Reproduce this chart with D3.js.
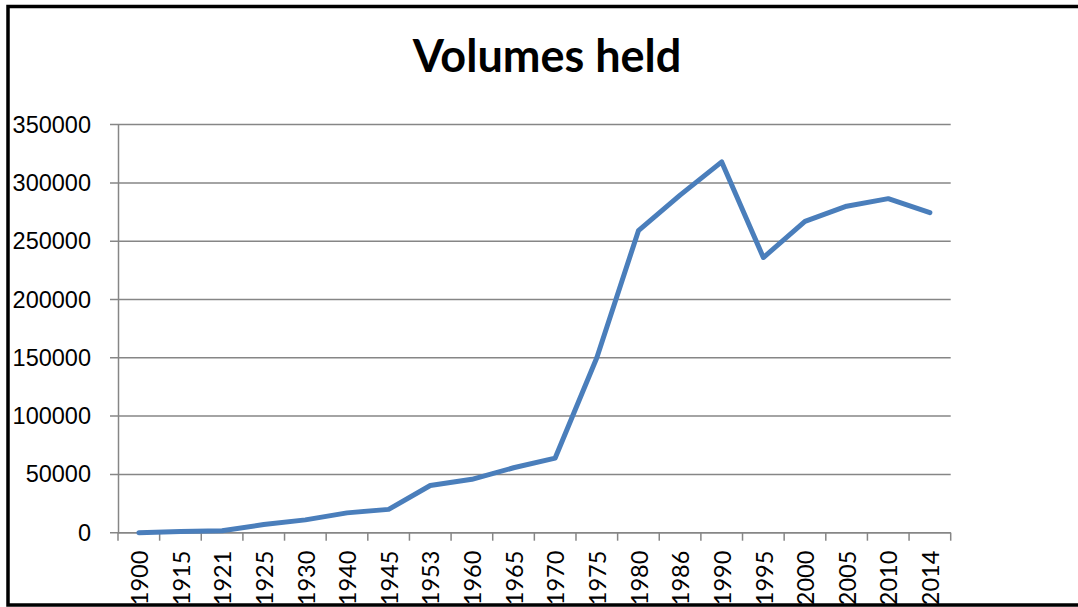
<!DOCTYPE html>
<html>
  <head>
    <meta charset="utf-8">
    <title>Volumes held</title>
    <script src="https://cdn.jsdelivr.net/npm/d3@7/dist/d3.min.js"></script>
    <style media="screen">
      body {
        margin: 0;
        background: #fff;
        overflow: hidden;
      }
      svg {
        display: block;
        font-family: Lato, "Open Sans", sans-serif;
      }
      .grid line {
        stroke: #868686;
        stroke-width: 1.5;
      }
      .tick text {
        fill: #000;
      }
    </style>
  </head>
  <body>
    <script type="text/javascript">

    const years = ["1900", "1915", "1921", "1925", "1930", "1940", "1945", "1953", "1960", "1965",
                   "1970", "1975", "1980", "1986", "1990", "1995", "2000", "2005", "2010", "2014"];
    const volumes = [0, 1000, 1700, 7000, 11000, 17000, 20000, 40500, 45800, 55700,
                     64000, 150000, 259000, 289500, 318000, 236000, 267000, 280000, 286500, 274500];
    const yTicks = [0, 50000, 100000, 150000, 200000, 250000, 300000, 350000];

    const W = 1078, H = 607;
    let margin = {top: 124.6, left: 118, right: W - 950.7, bottom: H - 532.7},
        width = W - margin.left - margin.right,
        height = H - margin.top - margin.bottom;

    const svg = d3.select('body').append('svg')
      .attr('width', W)
      .attr('height', H);

    // outer frame (right edge falls outside the picture)
    svg.append('rect')
      .attr('x', 8)
      .attr('y', 6.5)
      .attr('width', W + 20)
      .attr('height', 598.5)
      .attr('fill', 'none')
      .attr('stroke', '#000')
      .attr('stroke-width', 3.5);

    svg.append('text')
      .attr('x', 547)
      .attr('y', 72)
      .attr('text-anchor', 'middle')
      .style('font-size', '45px')
      .style('font-weight', 'bold')
      .text('Volumes held');

    const g = svg.append('g')
      .attr('transform', 'translate(' + margin.left + ',' + margin.top + ')');

    const x = d3.scaleBand().domain(years).range([0, width]);
    const y = d3.scaleLinear().domain([0, 350000]).range([height, 0]);

    // horizontal gridlines
    g.append('g')
      .attr('class', 'grid')
      .selectAll('line')
      .data(yTicks)
      .enter().append('line')
      .attr('x1', -8)
      .attr('x2', width)
      .attr('y1', d => y(d))
      .attr('y2', d => y(d));

    // y axis
    const yAxis = g.append('g')
      .call(d3.axisLeft(y).tickValues(yTicks).tickSize(0).tickPadding(27).tickFormat(d3.format('d')));
    yAxis.select('.domain').attr('stroke', '#868686').attr('stroke-width', 1.5);
    yAxis.selectAll('text').style('font-size', '23.5px');

    // x axis with ticks between categories
    const xg = g.append('g')
      .attr('transform', 'translate(0,' + height + ')');
    xg.append('line')
      .attr('x1', 0).attr('x2', width)
      .attr('stroke', '#868686').attr('stroke-width', 1.5);
    xg.selectAll('.xtick')
      .data(years.concat(['end']))
      .enter().append('line')
      .attr('class', 'xtick')
      .attr('x1', (d, i) => i * x.step())
      .attr('x2', (d, i) => i * x.step())
      .attr('y1', 0).attr('y2', 8)
      .attr('stroke', '#868686').attr('stroke-width', 1.5);
    xg.selectAll('.xlabel')
      .data(years)
      .enter().append('text')
      .attr('class', 'xlabel')
      .attr('transform', d => 'translate(' + (x(d) + x.bandwidth() / 2 + 1) + ',18) rotate(-90)')
      .attr('text-anchor', 'end')
      .attr('dy', '0.35em')
      .style('font-size', '23.5px')
      .text(d => d);

    // the series line
    const line = d3.line()
      .x((d, i) => x(years[i]) + x.bandwidth() / 2)
      .y(d => y(d));

    g.append('path')
      .datum(volumes)
      .attr('fill', 'none')
      .attr('stroke', '#4a7ebb')
      .attr('stroke-width', 5)
      .attr('stroke-linejoin', 'round')
      .attr('stroke-linecap', 'round')
      .attr('d', line);
    </script>
  </body>
</html>
